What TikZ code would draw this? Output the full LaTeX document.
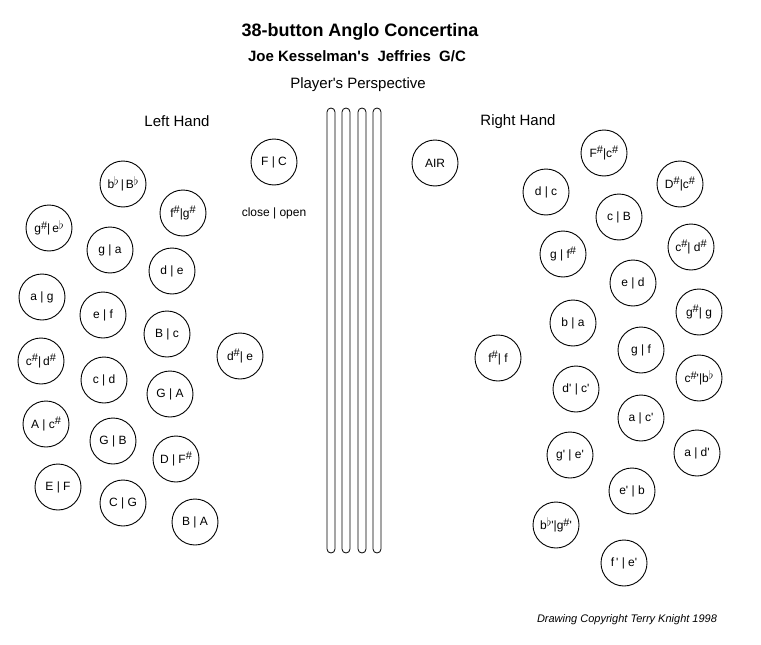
\documentclass[tikz,border=0pt]{standalone}
\usepackage{fontspec}
\setmainfont{Liberation Sans}[Ligatures=TeXOff]
\usetikzlibrary{positioning}
\newcommand{\shp}{\raisebox{0.5ex}{\fontsize{11}{11}\selectfont\#}}
\newcommand{\flt}{\raisebox{0.5ex}{\fontsize{12}{12}\selectfont$\flat$}}

\begin{document}
\begin{tikzpicture}[x=1pt,y=-1pt,
    btn/.style={circle,draw,line width=0.9pt,minimum size=46pt,inner sep=0pt,
      font=\fontsize{12}{13}\selectfont},
    bellow/.style={draw,line width=0.8pt,rounded corners=4pt},
    heading/.style={font=\fontsize{15}{17}\selectfont}]
  \useasboundingbox (0,0) rectangle (761,645);
  \node[font=\fontsize{18}{20}\selectfont\bfseries] (title) at (360,32) {38-button Anglo Concertina};
  \node[font=\fontsize{15}{17}\selectfont\bfseries] (subtitle) at (357,56) {Joe Kesselman's\ \ Jeffries\ \ G/C};
  \node[heading] (persp) at (358,85) {Player's Perspective};
  \node[heading] (lefthand) at (177,121) {Left Hand};
  \node[heading] (righthand) at (518,122) {Right Hand};
  % bellows
  \foreach \x in {331,346,362,377}
    \draw[bellow] (\x-4,108) rectangle (\x+4,553);
  % left hand (close | open)
  \foreach \n/\x/\y/\lab in {fc/274/162/{F | C}, bB/123/184/{b\flt\,|\,B\flt},
      fg/183/213/{f\shp|g\shp}, ge/49/228/{g\shp|\,e\flt}, ga/110/250/{g | a},
      de/172/271/{d | e}, ag/42/297/{a | g}, ef/103/315/{e | f},
      Bc/167/334/{B | c}, dse/240/356/{d\shp| e}, cd/41/361/{c\shp|\,d\shp},
      cdn/104/380/{c | d}, GA/170/394/{G | A}, Ac/46/424/{A | c\shp},
      GB/113/441/{G | B}, DF/176/459/{D | F\shp}, EF/58/487/{E | F},
      CG/123/503/{C | G}, BA/195/522/{B | A}}
    \node[btn] (\n) at (\x,\y) {\lab};
  \node[font=\fontsize{12}{14}\selectfont,below=19pt of fc] (closeopen) {close | open};
  % right hand
  \node[btn] (air) at (435,163) {AIR};
  \foreach \n/\x/\y/\lab in {Fc/604/153/{F\shp|c\shp}, dc/546/192/{d | c},
      Dc/680/184/{D\shp|c\shp}, cB/619/217/{c | B}, gf/563/254/{g | f\shp},
      cdr/691/247/{c\shp| d\shp}, ed/633/283/{e | d}, gg/699/312/{g\shp| g},
      ba/573/323/{b | a}, ff/498/358/{f\shp| f}, gfn/641/350/{g | f},
      cb/699/378/{c\shp'|b\flt}, dcp/576/389/{d' | c'}, ac/641/418/{a | c'},
      ad/697/453/{a | d'}, gep/570/455/{g' | e'}, eb/632/491/{e' | b},
      bg/556/525/{b\flt'|g\shp'}, fe/624/563/{f\,' | e'}}
    \node[btn] (\n) at (\x,\y) {\lab};
  \node[font=\fontsize{11}{13}\selectfont\itshape] (copyright) at (627,620) {Drawing Copyright Terry Knight 1998};
\end{tikzpicture}
\end{document}
